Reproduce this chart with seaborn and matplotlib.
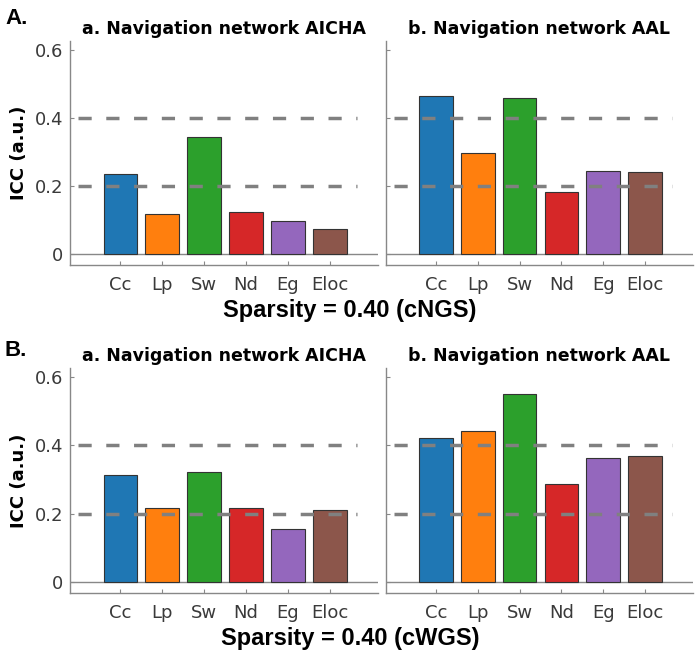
import matplotlib
matplotlib.use("Agg")
import matplotlib.pyplot as plt
import seaborn as sns
import pandas as pd

sns.set_theme(style="white")
plt.rcParams['font.family'] = ['DejaVu Sans']
plt.rcParams['text.color'] = 'black'

metrics = ["Cc", "Lp", "Sw", "Nd", "Eg", "Eloc"]
colors = ["#1f77b4", "#ff7f0e", "#2ca02c", "#d62728", "#9467bd", "#8c564b"]

a_aicha = [0.235, 0.118, 0.344, 0.124, 0.097, 0.074]
a_aal = [0.466, 0.296, 0.458, 0.183, 0.243, 0.241]
b_aicha = [0.313, 0.215, 0.322, 0.216, 0.154, 0.210]
b_aal = [0.421, 0.441, 0.551, 0.286, 0.363, 0.368]

titles = ["a. Navigation network AICHA", "b. Navigation network AAL"]
row_labels = ["A.", "B."]
sparsity_labels = ["Sparsity = 0.40 (cNGS)", "Sparsity = 0.40 (cWGS)"]
yticks = [0, 0.2, 0.4, 0.6]
ytick_labels = ["0", "0.2", "0.4", "0.6"]
ref_lines = [0.2, 0.4]

W, H = 698, 663
fig = plt.figure(figsize=(W / 100, H / 100), dpi=100)

rows = [(a_aicha, a_aal), (b_aicha, b_aal)]
row_top_px = [41, 368]
row_bot_px = [265, 593]
col_px = [(70, 378), (386, 693)]
grey = "#888888"
txt = "#3a3a3a"

for r, (vals_l, vals_r) in enumerate(rows):
    for c, vals in enumerate((vals_l, vals_r)):
        x0, x1 = col_px[c]
        ax = fig.add_axes([x0 / W, 1 - row_bot_px[r] / H, (x1 - x0) / W,
                           (row_bot_px[r] - row_top_px[r]) / H])
        df = pd.DataFrame({"metric": metrics, "icc": vals})
        sns.barplot(data=df, x="metric", y="icc", hue="metric", palette=colors,
                    legend=False, width=0.8, edgecolor="#333333", linewidth=0.8,
                    saturation=1, ax=ax, zorder=2)
        ax.axhline(0, color=grey, lw=1.0, zorder=1)
        for y in ref_lines:
            ax.hlines(y, -1.0, 5.65, colors="#808080", linestyles=(0, (3.8, 4.2)),
                      lw=2.5, zorder=3)
        ax.set_xlim(-1.2, 6.15)
        ax.set_ylim(-0.033, 0.627)
        ax.set_yticks(yticks)
        ax.set_title(titles[c], fontsize=12.5, fontweight="bold", pad=5, color="black")
        ax.set_xlabel("")
        for s in ["top", "right"]:
            ax.spines[s].set_visible(False)
        for s in ["left", "bottom"]:
            ax.spines[s].set_color(grey)
            ax.spines[s].set_linewidth(1.0)
        ax.tick_params(axis="both", direction="in", length=3, width=0.8,
                       color=grey, labelsize=13, labelcolor=txt)
        ax.tick_params(axis="x", pad=8)
        ax.tick_params(axis="y", pad=5)
        ax.tick_params(left=True, bottom=True)
        if c == 0:
            ax.set_yticklabels(ytick_labels)
            ax.set_ylabel("ICC (a.u.)", fontsize=13, fontweight="bold",
                          color="black", labelpad=5)
        else:
            ax.set_yticklabels([])
            ax.set_ylabel("")
    fig.text(5 / W, 1 - (19 if r == 0 else 351) / H, row_labels[r],
             fontsize=16, fontweight="bold", family="Liberation Sans",
             ha="left", va="center", color="black")
    fig.text(350 / W, 1 - (310 if r == 0 else 638) / H, sparsity_labels[r],
             fontsize=17, fontweight="bold", family="Liberation Sans",
             ha="center", va="center", color="black")

fig.savefig("out.png", dpi=100)
